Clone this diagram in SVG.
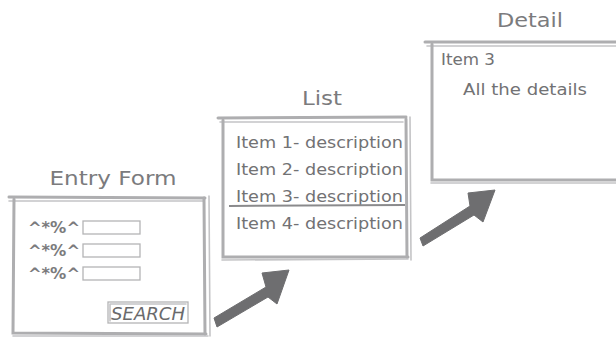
<svg xmlns="http://www.w3.org/2000/svg" width="616" height="339" viewBox="0 0 616 339">
<style>
.frame{fill:none;stroke:#aeaeb0;stroke-width:3;stroke-linecap:round}
.frame2{fill:none;stroke:#c4c4c6;stroke-width:1.6;stroke-linecap:round}
.title{font-family:"DejaVu Sans",sans-serif;font-size:19px;fill:#7b7b7d}
.txt{font-family:"DejaVu Sans",sans-serif;font-size:15px;fill:#727274}
.lbl{font-family:"DejaVu Sans",sans-serif;font-size:15px;font-weight:bold;fill:#7b7b7d}
.field{fill:#fff;stroke:#b4b4b6;stroke-width:1.3}
.arrow{fill:#6e6e70;stroke:#6e6e70;stroke-width:1;stroke-linejoin:round}
</style>
<rect width="616" height="339" fill="#fff"/>
<g id="entry-form">
<text class="title" x="113" y="185" text-anchor="middle" textLength="127" lengthAdjust="spacingAndGlyphs">Entry Form</text>
<path class="frame" d="M9 197 L205 198"/>
<path class="frame2" d="M9 201 L203 201"/>
<path class="frame" d="M14 199 L13 333 L206 334"/>
<path class="frame2" d="M13 336 L208 336"/>
<path class="frame" d="M204 198 L205 334"/>
<path class="frame2" d="M209 196 L210 336"/>
<text class="lbl" x="28" y="233" textLength="52" lengthAdjust="spacingAndGlyphs">^*%^</text>
<text class="lbl" x="28" y="256" textLength="52" lengthAdjust="spacingAndGlyphs">^*%^</text>
<text class="lbl" x="28" y="279" textLength="52" lengthAdjust="spacingAndGlyphs">^*%^</text>
<rect class="field" x="83" y="221" width="57" height="13"/>
<rect class="field" x="83" y="244" width="57" height="13"/>
<rect class="field" x="83" y="267" width="57" height="13"/>
<rect class="field" x="108" y="302" width="80" height="21"/>
<path class="frame2" d="M110 304 L186 304 M110 304 L110 321"/>
<text x="148" y="320" text-anchor="middle" textLength="74" lengthAdjust="spacingAndGlyphs" style="font-family:'DejaVu Sans',sans-serif;font-size:18px;font-style:italic;fill:#6a6a6c">SEARCH</text>
</g>
<g id="list">
<text class="title" x="322" y="105" text-anchor="middle" textLength="40" lengthAdjust="spacingAndGlyphs">List</text>
<path class="frame" d="M218 118 L406 117"/>
<path class="frame2" d="M220 122 L403 122"/>
<path class="frame" d="M223 120 L223 257 L408 257"/>
<path class="frame2" d="M222 260 L408 259"/>
<path class="frame" d="M406 119 L407 257"/>
<path class="frame2" d="M410 117 L411 260"/>
<text class="txt" x="236" y="148" textLength="167" lengthAdjust="spacingAndGlyphs">Item 1- description</text>
<text class="txt" x="236" y="175" textLength="167" lengthAdjust="spacingAndGlyphs">Item 2- description</text>
<text class="txt" x="236" y="202" textLength="167" lengthAdjust="spacingAndGlyphs">Item 3- description</text>
<path d="M229 206 L405 205" stroke="#8a8a8c" stroke-width="2" fill="none"/>
<text class="txt" x="236" y="229" textLength="167" lengthAdjust="spacingAndGlyphs">Item 4- description</text>
</g>
<g id="detail">
<text class="title" x="530" y="27" text-anchor="middle" textLength="66" lengthAdjust="spacingAndGlyphs">Detail</text>
<path class="frame" d="M425 42 L616 42"/>
<path class="frame2" d="M427 46 L616 46"/>
<path class="frame" d="M432 44 L432 180 L616 180"/>
<path class="frame2" d="M431 183 L616 183"/>
<text class="txt" x="441" y="65" textLength="54" lengthAdjust="spacingAndGlyphs">Item 3</text>
<text class="txt" x="463" y="95" textLength="124" lengthAdjust="spacingAndGlyphs">All the details</text>
</g>
<g id="connectors">
<path class="arrow" d="M214 318 L217 327 L268 297 L277 304 L289 270 L262 273 L266 287 Z"/>
<path class="arrow" d="M420 238 L423 246 L474 215 L483 222 L495 190 L468 193 L470 206 Z"/>
</g>
</svg>
